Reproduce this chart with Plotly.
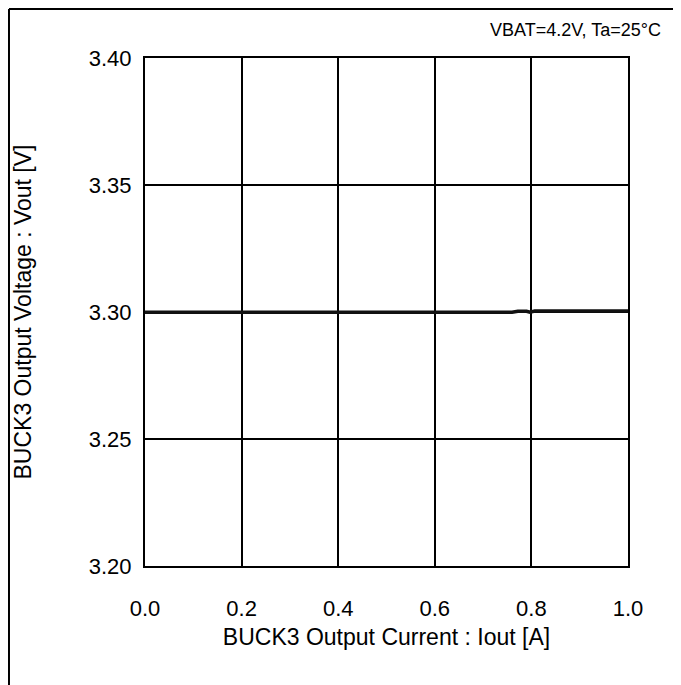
import plotly.graph_objects as go

# output current [A] vs output voltage [V]
iout = [0.0, 0.1, 0.2, 0.3, 0.4, 0.5, 0.6, 0.7, 0.76, 0.772, 0.79, 0.797, 0.807, 0.85, 0.9, 0.95, 1.0]
vout = [3.2999, 3.2999, 3.2999, 3.2999, 3.2999, 3.2999, 3.2999, 3.2999, 3.2999,
        3.3003, 3.3003, 3.2999, 3.3004, 3.3004, 3.3004, 3.3004, 3.3004]

x_ticks = [0.0, 0.2, 0.4, 0.6, 0.8, 1.0]
y_ticks = [3.20, 3.25, 3.30, 3.35, 3.40]

FONT = "Liberation Sans"

fig = go.Figure()
fig.add_trace(go.Scatter(x=iout, y=vout, mode="lines",
                         line=dict(color="#111111", width=3.5), showlegend=False))

axis_common = dict(showline=True, linecolor="black", linewidth=2, mirror=True,
                   showgrid=True, gridcolor="black", gridwidth=1.8, zeroline=False,
                   ticks="outside", tickcolor="rgba(0,0,0,0)",
                   tickfont=dict(family=FONT, size=22, color="black"))

fig.update_xaxes(range=[0, 1.0], tickvals=x_ticks, ticktext=[f"{v:.1f}" for v in x_ticks],
                 ticklen=22,
                 title=dict(text="BUCK3 Output Current : Iout [A]", standoff=8,
                            font=dict(family=FONT, size=23, color="black")),
                 **axis_common)
fig.update_yaxes(range=[3.20, 3.40], tickvals=y_ticks, ticktext=[f"{v:.2f}" for v in y_ticks],
                 ticklen=7,
                 title=dict(text="BUCK3 Output Voltage : Vout [V]", standoff=51,
                            font=dict(family=FONT, size=23, color="black")),
                 **axis_common)

fig.add_annotation(text="VBAT=4.2V, Ta=25°C", xref="paper", yref="paper", x=1.072, y=1.055,
                   xanchor="right", yanchor="middle", showarrow=False,
                   font=dict(family=FONT, size=18, color="black"))

# outer frame: only top and left edges show in the reference
fig.add_shape(type="line", xref="paper", yref="paper", x0=-0.2816, x1=1.099, y0=1.0965, y1=1.0965,
              line=dict(color="black", width=2))
fig.add_shape(type="line", xref="paper", yref="paper", x0=-0.2816, x1=-0.2816, y0=1.0965, y1=-0.25,
              line=dict(color="black", width=2))

# page has an 8px body margin, so the figure is 8px smaller than the window
fig.update_layout(width=673, height=677, margin=dict(l=137, r=53, t=50, b=119),
                  plot_bgcolor="white", paper_bgcolor="white",
                  font=dict(family=FONT, color="black"))

fig.write_html("out.html", config={"displayModeBar": False})
